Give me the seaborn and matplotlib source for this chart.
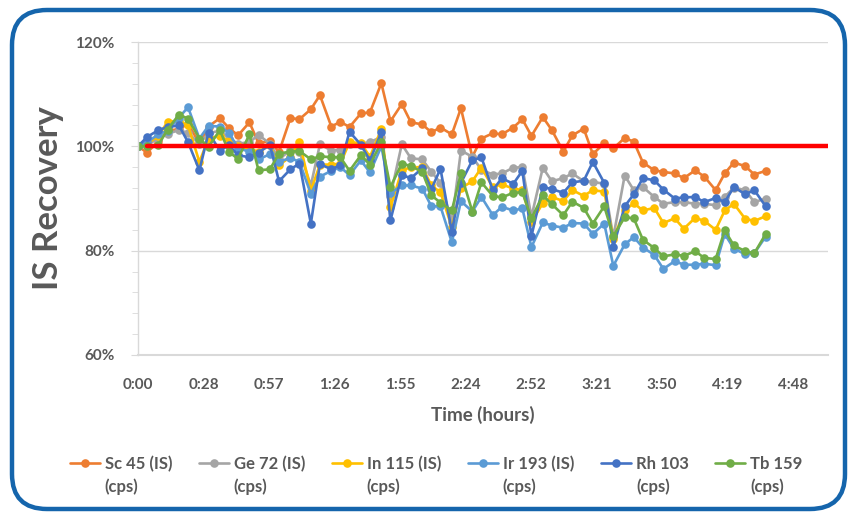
import numpy as np
import pandas as pd
import matplotlib
matplotlib.use("Agg")
import matplotlib.pyplot as plt
import seaborn as sns
from matplotlib.patches import FancyBboxPatch
from matplotlib.ticker import MultipleLocator, FuncFormatter

# --- data ---
times = ["0:00", "0:04", "0:09", "0:13", "0:18", "0:22", "0:27", "0:31", "0:36", "0:40",
         "0:44", "0:49", "0:53", "0:58", "1:02", "1:07", "1:11", "1:16", "1:20", "1:25",
         "1:29", "1:33", "1:38", "1:42", "1:47", "1:51", "1:56", "2:00", "2:05", "2:09",
         "2:13", "2:18", "2:22", "2:27", "2:31", "2:36", "2:40", "2:45", "2:49", "2:53",
         "2:58", "3:02", "3:07", "3:11", "3:16", "3:20", "3:25", "3:29", "3:34", "3:38",
         "3:42", "3:47", "3:51", "3:56", "4:00", "4:05", "4:09", "4:14", "4:18", "4:22",
         "4:27", "4:31", "4:36"]

sc45 = [100, 98.8, 101.0, 103.0, 103.3, 104.3, 100.6, 103.8, 105.4, 103.5,
        102.1, 104.6, 100.6, 101.0, 98.9, 105.4, 105.2, 107.1, 109.8, 103.8,
        104.7, 103.7, 106.3, 106.5, 112.1, 104.8, 108.1, 104.6, 104.2, 102.7,
        103.6, 102.3, 107.3, 98.0, 101.5, 102.5, 102.3, 103.6, 105.2, 102.0,
        105.6, 103.1, 99.0, 102.1, 103.4, 98.5, 100.6, 99.6, 101.6, 100.9,
        96.9, 95.4, 95.1, 94.8, 93.9, 95.4, 94.2, 91.6, 94.8, 96.9,
        96.2, 94.6, 95.3]

ge72 = [100, 100.3, 101.5, 102.4, 103.1, 102.6, 100.5, 102.5, 103.0, 101.5,
        100.5, 100.8, 102.2, 100.5, 97.5, 99.3, 99.0, 92.5, 100.4, 99.2,
        99.3, 100.5, 100.5, 100.8, 101.8, 90.5, 100.4, 97.7, 97.5, 95.1,
        93.0, 85.5, 99.2, 98.0, 95.5, 94.6, 94.8, 95.9, 96.0, 86.5,
        95.9, 93.3, 93.9, 94.8, 93.3, 93.2, 92.8, 82.6, 94.4, 91.6,
        92.2, 90.3, 89.0, 89.3, 89.3, 89.0, 89.0, 88.7, 90.3, 92.1,
        91.6, 89.3, 90.0]

in115 = [100, 100.5, 102.0, 104.7, 104.9, 104.0, 97.0, 101.5, 102.0, 101.0,
         100.0, 99.5, 99.0, 100.2, 96.4, 98.0, 100.8, 91.5, 96.5, 96.5,
         96.7, 100.8, 100.6, 98.0, 103.3, 88.3, 95.4, 96.0, 96.0, 92.5,
         91.2, 84.5, 92.0, 93.3, 95.9, 92.2, 92.7, 91.9, 91.6, 85.5,
         89.1, 90.3, 89.5, 91.6, 90.5, 91.6, 91.3, 82.3, 87.7, 89.1,
         87.7, 88.2, 85.3, 86.2, 84.2, 86.3, 85.7, 84.0, 87.7, 89.0,
         86.1, 85.7, 86.6]

ir193 = [100, 100.8, 102.3, 103.0, 105.5, 107.5, 101.5, 103.9, 103.8, 102.6,
         99.6, 99.0, 97.5, 98.5, 97.0, 97.8, 97.0, 90.9, 94.2, 95.3,
         96.0, 94.5, 97.3, 95.0, 100.0, 91.0, 92.5, 92.5, 91.9, 88.5,
         88.5, 81.6, 89.5, 87.5, 90.3, 86.8, 88.4, 87.7, 88.1, 80.7,
         85.4, 84.8, 84.4, 85.3, 85.2, 83.2, 85.2, 77.1, 81.2, 82.6,
         80.6, 79.2, 76.5, 78.0, 77.3, 77.3, 77.5, 77.2, 83.2, 80.4,
         79.3, 79.5, 82.7]

rh103 = [100, 101.8, 103.1, 103.7, 104.0, 100.8, 95.4, 102.6, 99.2, 100.2,
         98.3, 97.9, 98.8, 100.3, 93.3, 95.6, 96.7, 85.2, 96.6, 95.6,
         96.4, 102.8, 100.3, 97.3, 102.7, 85.8, 94.5, 93.9, 95.8, 91.8,
         95.7, 83.6, 93.0, 97.3, 97.9, 91.6, 93.9, 92.8, 95.3, 82.8,
         92.2, 91.8, 91.1, 93.1, 93.4, 97.0, 93.0, 80.7, 88.5, 90.8,
         93.9, 93.5, 91.7, 90.0, 90.2, 90.3, 89.3, 90.1, 89.3, 92.2,
         90.8, 91.6, 88.5]

tb159 = [100, 100, 100.3, 103.2, 106.1, 105.3, 101.5, 99.9, 103.1, 98.9,
         97.6, 102.3, 95.4, 95.6, 98.6, 99.0, 99.1, 97.5, 98.1, 97.9,
         97.9, 95.3, 98.3, 96.5, 100.8, 92.2, 96.7, 96.2, 95.1, 90.6,
         89.2, 87.7, 94.8, 87.5, 93.1, 90.5, 90.2, 91.1, 91.2, 86.2,
         90.6, 88.9, 86.8, 89.4, 88.2, 85.2, 88.5, 82.8, 86.4, 86.2,
         82.1, 80.5, 78.9, 79.3, 79.0, 79.9, 78.6, 78.4, 83.9, 81.0,
         79.9, 79.5, 83.2]

labels = ["Sc 45 (IS)", "Ge 72 (IS)", "In 115 (IS)", "Ir 193 (IS)", "Rh 103", "Tb 159"]
colors = ["#ED7D31", "#A5A5A5", "#FFC000", "#5B9BD5", "#4472C4", "#70AD47"]
series = [sc45, ge72, in115, ir193, rh103, tb159]

xtick_vals = [0, 28.8, 57.6, 86.4, 115.2, 144.0, 172.8, 201.6, 230.4, 259.2, 288.0]
xtick_labels = ["0:00", "0:28", "0:57", "1:26", "1:55", "2:24", "2:52", "3:21", "3:50", "4:19", "4:48"]

minutes = [int(t.split(":")[0]) * 60 + int(t.split(":")[1]) for t in times]

# --- plot ---
sns.set_style("white")
plt.rcParams['font.family'] = ['Lato', 'DejaVu Sans']
txt = "#595959"

fig = plt.figure(figsize=(8.52, 5.13), dpi=100)
ax = fig.add_axes([138 / 852, 1 - 355 / 513, (828 - 138) / 852, (355 - 42) / 513])

for vals, lab, col in zip(series, labels, colors):
    sns.lineplot(x=minutes, y=vals, ax=ax, color=col, label=lab, marker="o",
                 markersize=6.2, markeredgewidth=0, markeredgecolor=col, linewidth=1.9)

# 100 % reference line
sns.lineplot(x=[minutes[1], 303.4], y=[100, 100], ax=ax, color="#FF0000",
             linewidth=3.2, zorder=10, legend=False)

ax.set_xlim(0, 303.4)
ax.set_ylim(60, 120)
ax.set_xticks(xtick_vals)
ax.set_xticklabels(xtick_labels)
ax.yaxis.set_major_locator(MultipleLocator(20))
ax.yaxis.set_minor_locator(MultipleLocator(4))
ax.yaxis.set_major_formatter(FuncFormatter(lambda v, p: f"{v:.0f}%"))
ax.grid(axis="y", color="#D9D9D9", linewidth=1)
ax.set_axisbelow(True)

for s in ["top", "right"]:
    ax.spines[s].set_visible(False)
ax.spines["left"].set_color("#D9D9D9")
ax.spines["bottom"].set_color("#D9D9D9")
ax.spines["left"].set_linewidth(1)
ax.spines["bottom"].set_linewidth(1.5)

ax.tick_params(axis="y", which="major", left=True, length=5, color="#D9D9D9",
               labelsize=11, labelcolor=txt, pad=12)
ax.tick_params(axis="y", which="minor", left=True, length=4, color="#D9D9D9")
ax.tick_params(axis="x", bottom=False, labelsize=11, labelcolor=txt, pad=13)
for t in ax.get_xticklabels() + ax.get_yticklabels():
    t.set_fontweight("bold")

ax.set_xlabel("Time (hours)", fontsize=13.5, fontweight="bold", color=txt, labelpad=10)
ax.set_ylabel("IS Recovery", fontsize=25, fontweight="bold", color=txt, labelpad=8)

ax.get_legend().remove()
handles, labs = ax.get_legend_handles_labels()
leg = fig.legend(handles[:6], labs[:6], loc="center", bbox_to_anchor=(0.512, 1 - 464 / 513),
                 ncol=6, frameon=False, fontsize=12, handlelength=1.8, handletextpad=0.3,
                 columnspacing=1.6)
for t in leg.get_texts():
    t.set_color(txt)
    t.set_fontweight("bold")

# second line of each legend label, left-aligned under the first
fig.canvas.draw()
inv = fig.transFigure.inverted()
for t in leg.get_texts():
    bb = t.get_window_extent()
    x0, y0 = inv.transform((bb.x0, bb.y0))
    fig.text(x0, y0 - 0.012, "(cps)", ha="left", va="top", fontsize=12,
             fontweight="bold", color=txt)

# rounded blue frame
frame = FancyBboxPatch((0.12, 0.04), 8.33, 4.99, boxstyle="round,pad=0,rounding_size=0.35",
                       transform=fig.dpi_scale_trans, facecolor="none",
                       edgecolor="#1565AC", linewidth=3.2, clip_on=False)
fig.patches.append(frame)

fig.savefig("out.png", dpi=100)
